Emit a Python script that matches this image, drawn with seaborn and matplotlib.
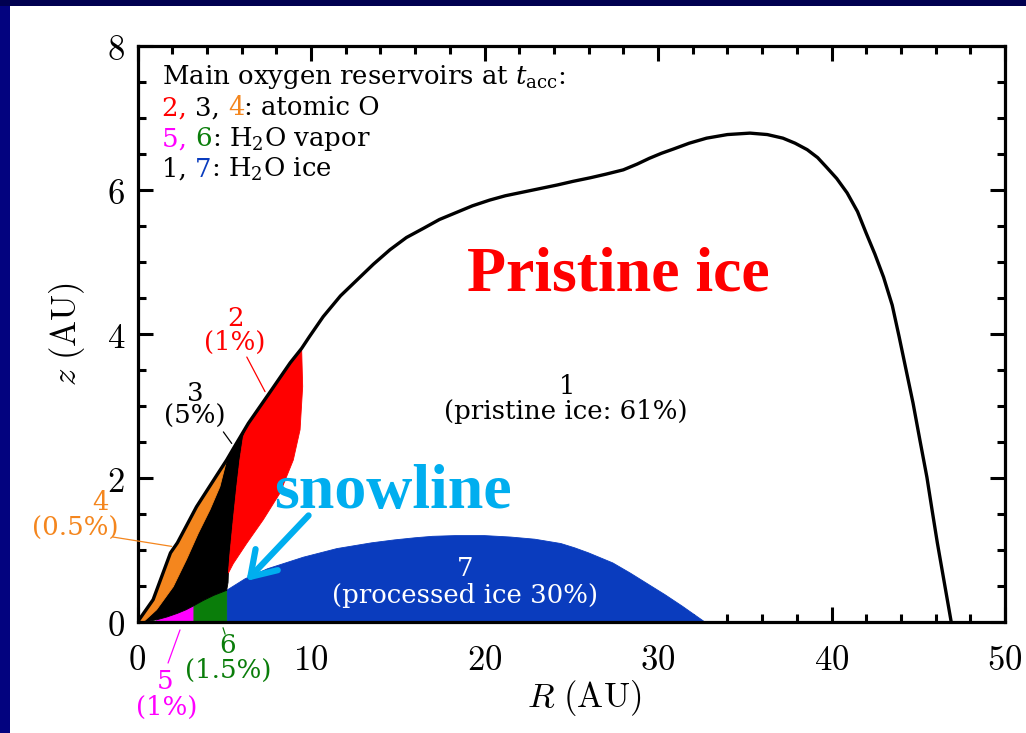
import numpy as np
import matplotlib
matplotlib.use("Agg")
import matplotlib.pyplot as plt
from matplotlib.transforms import offset_copy
from matplotlib.patches import Rectangle, FancyArrowPatch
import seaborn as sns

# ---- disc surface (outer boundary of the accreted material), R and z in AU
surf_R = [0, 0.9, 1.9, 2.3, 3.4, 4.6, 5.14, 5.7, 6.39, 7.6, 8.8, 9.46, 9.9, 10.7,
          11.7, 12.65, 13.6, 14.55, 15.5, 16.5, 17.4, 18.4, 19.3, 20.3, 21.2, 22.2,
          23.2, 24.2, 25.1, 26.1, 27.0, 28.0, 28.8, 29.5, 30.2, 30.9, 31.8, 32.8,
          34.0, 35.3, 36.3, 37.2, 37.9, 38.6, 39.2, 39.7, 40.3, 40.9, 41.5, 42.0,
          42.5, 43.0, 43.5, 43.9, 44.3, 44.7, 45.1, 45.5, 45.8, 46.1, 46.5, 46.9]
surf_z = [0, 0.31, 0.96, 1.1, 1.6, 2.05, 2.25, 2.48, 2.76, 3.18, 3.6, 3.8, 3.96, 4.24,
          4.53, 4.75, 4.97, 5.17, 5.34, 5.47, 5.59, 5.69, 5.78, 5.86, 5.92, 5.97,
          6.02, 6.07, 6.12, 6.17, 6.22, 6.28, 6.36, 6.44, 6.51, 6.57, 6.65, 6.72,
          6.77, 6.79, 6.77, 6.72, 6.65, 6.56, 6.45, 6.32, 6.16, 5.96, 5.70, 5.40,
          5.11, 4.79, 4.40, 3.96, 3.50, 3.04, 2.52, 2.01, 1.55, 1.10, 0.55, 0]
I_ORANGE_TIP, I_BLACK_TOP, I_RED_TOP = 6, 8, 11

# inner edge of region 4 (atomic O), from its tip down to the star
orange_R = [5.14, 4.75, 4.18, 3.5, 2.83, 2.06, 1.1, 0.33, 0]
orange_z = [2.25, 1.88, 1.56, 1.23, 0.87, 0.49, 0.17, 0.0, 0]

# boundary between regions 3 and 2, from the surface down to the lower tip
mid_R = [6.39, 6.1, 5.9, 5.72, 5.52, 5.33, 5.24]
mid_z = [2.76, 2.57, 2.25, 1.88, 1.42, 0.95, 0.68]
corner_R = [5.22]
corner_z = [0.55]

# outer edge of region 2, from the surface down to the lower tip
red_R = [9.46, 9.52, 9.37, 8.98, 8.21, 7.25, 6.29, 5.52, 5.24]
red_z = [3.8, 3.27, 2.67, 2.25, 1.79, 1.42, 1.09, 0.81, 0.68]

# lower edge of region 3 (top of the vapour regions 5 and 6)
base_R = [0, 0.6, 1.1, 1.7, 2.3, 2.8, 3.2, 3.8, 4.4, 5.14]
base_z = [0, 0.01, 0.03, 0.07, 0.12, 0.17, 0.22, 0.30, 0.37, 0.44]
I_MAG_START, I_GREEN_START = 2, 6

# top of region 7 (processed ice)
blue_R = [5.14, 6.2, 7.5, 9.56, 11.5, 13.5, 14.8, 16.0, 17.0, 18.3, 20.0, 21.5,
          22.9, 24.4, 25.2, 26.0, 27.4, 28.4, 29.4, 30.4, 31.4, 32.7]
blue_z = [0.44, 0.6, 0.74, 0.9, 1.02, 1.1, 1.14, 1.17, 1.19, 1.2, 1.2, 1.18,
          1.15, 1.09, 1.03, 0.96, 0.82, 0.68, 0.53, 0.38, 0.22, 0]

x_ticks = [0, 10, 20, 30, 40, 50]
y_ticks = [0, 2, 4, 6, 8]

C_RED, C_ORANGE, C_MAG = "#FF0000", "#F4861E", "#FF00FF"
C_GREEN, C_BLUE, C_BLACK = "#0A7D0A", "#0A3CBE", "#000000"
C_SKY = "#00AEEF"

sns.set_theme(style="ticks")
plt.rcParams.update({
    "font.family": ["DejaVu Serif"],
    "mathtext.fontset": "cm",
    "axes.linewidth": 2.3,
    "axes.edgecolor": "black",
    "axes.labelcolor": "black",
    "text.color": "black",
    "xtick.direction": "in", "ytick.direction": "in",
    "xtick.top": True, "ytick.right": True,
    "xtick.major.size": 11, "ytick.major.size": 11,
    "xtick.minor.size": 5.5, "ytick.minor.size": 5.5,
    "xtick.major.width": 2.2, "ytick.major.width": 2.2,
    "xtick.minor.width": 2.2, "ytick.minor.width": 2.2,
    "xtick.color": "black", "ytick.color": "black",
    "xtick.labelcolor": "black", "ytick.labelcolor": "black",
})

fig = plt.figure(figsize=(10.26, 7.33), dpi=100)
fig.patch.set_facecolor("white")
fig.patches.append(Rectangle((0, 0), 10 / 1026, 1, transform=fig.transFigure,
                             facecolor="#03037F", edgecolor="none"))
fig.patches.append(Rectangle((0, 1 - 6 / 733), 1, 6 / 733, transform=fig.transFigure,
                             facecolor="#000050", edgecolor="none"))

ax = fig.add_axes([137.5 / 1026, 111 / 733, 867.5 / 1026, 576 / 733])
ax.set_facecolor("white")


def region(xs, ys, color):
    ax.fill(xs, ys, facecolor=color, edgecolor=color, lw=0.6, zorder=2)


# region 7: processed ice
region([blue_R[0]] + blue_R, [0] + blue_z, C_BLUE)
# regions 6 and 5: water vapour
region([base_R[I_GREEN_START]] + base_R[I_GREEN_START:] + [base_R[-1]],
       [0] + base_z[I_GREEN_START:] + [0], C_GREEN)
region([base_R[I_MAG_START]] + base_R[I_MAG_START:I_GREEN_START + 1] + [base_R[I_GREEN_START]],
       [0] + base_z[I_MAG_START:I_GREEN_START + 1] + [0], C_MAG)
# region 3: atomic O (black)
region(surf_R[:I_BLACK_TOP + 1] + mid_R + corner_R + base_R[::-1],
       surf_z[:I_BLACK_TOP + 1] + mid_z + corner_z + base_z[::-1], C_BLACK)
# region 2
region(surf_R[I_BLACK_TOP:I_RED_TOP + 1] + red_R + mid_R[::-1],
       surf_z[I_BLACK_TOP:I_RED_TOP + 1] + red_z + mid_z[::-1], C_RED)
# region 4
region(surf_R[:I_ORANGE_TIP + 1] + orange_R, surf_z[:I_ORANGE_TIP + 1] + orange_z, C_ORANGE)

# disc surface
sns.lineplot(x=surf_R, y=surf_z, sort=False, estimator=None, color="black",
             lw=2.4, ax=ax, zorder=4)

ax.set_xlim(0, 50)
ax.set_ylim(0, 8)
ax.set_xticks(x_ticks, labels=[f"${v}$" for v in x_ticks])
ax.set_yticks(y_ticks, labels=[f"${v}$" for v in y_ticks])
ax.set_xticks(np.arange(0, 51, 2), minor=True)
ax.set_yticks(np.arange(0, 8.01, 0.5), minor=True)
ax.tick_params(axis="x", which="major", labelsize=25, pad=15)
ax.tick_params(axis="y", which="major", labelsize=25, pad=9)
ax.set_xlabel(r"$R\ (\mathrm{AU})$", fontsize=25)
ax.xaxis.set_label_coords(0.515, -0.098)
ax.set_ylabel(r"$z\ (\mathrm{AU})$", fontsize=25, labelpad=14)
for s in ax.spines.values():
    s.set_zorder(6)

# ---- region labels
TXT = 18.7


def label(x, y, s, color, **kw):
    ax.text(x, y, s, color=color, fontsize=TXT, ha="center", va="center",
            clip_on=False, zorder=7, **kw)


def leader(x0, y0, x1, y1, color):
    ax.plot([x0, x1], [y0, y1], color=color, lw=0.9, clip_on=False, zorder=7)


label(5.62, 4.22, "2", C_RED)
label(5.62, 3.89, "(1%)", C_RED)
leader(6.3, 3.68, 7.35, 3.2, C_RED)

label(3.31, 3.17, "3", C_BLACK)
label(3.31, 2.85, "(5%)", C_BLACK)
leader(4.95, 2.64, 5.43, 2.48, C_BLACK)

label(-2.15, 1.66, "4", C_ORANGE)
label(-3.6, 1.30, "(0.5%)", C_ORANGE)
leader(-1.41, 1.18, 1.97, 1.05, C_ORANGE)

label(1.6, -0.83, "5", C_MAG)
label(1.7, -1.18, "(1%)", C_MAG)
leader(2.45, -0.11, 1.76, -0.57, C_MAG)

label(5.2, -0.32, "6", C_GREEN)
label(5.2, -0.67, "(1.5%)", C_GREEN)
leader(4.93, -0.08, 5.05, -0.17, C_GREEN)

label(24.75, 3.27, "1", C_BLACK)
label(24.7, 2.92, "(pristine ice: 61%)", C_BLACK)

label(18.9, 0.74, "7", "white")
label(18.9, 0.375, "(processed ice 30%)", "white")

# ---- key in the upper left corner
renderer = fig.canvas.get_renderer()


def key_line(y, parts):
    done = ""
    for s, c in parts:
        if done:
            probe = ax.text(0, 0, done + "|", fontsize=TXT, transform=ax.transAxes)
            bar = ax.text(0, 0, "|", fontsize=TXT, transform=ax.transAxes)
            dx = (probe.get_window_extent(renderer).width
                  - bar.get_window_extent(renderer).width)
            probe.remove()
            bar.remove()
        else:
            dx = 0
        tr = offset_copy(ax.transAxes, fig=fig, x=dx, y=0, units="dots")
        ax.text(0.028, y, s, color=c, fontsize=TXT, transform=tr, ha="left",
                va="baseline", math_fontfamily="dejavuserif", zorder=7)
        done += s


key_line(0.934, [(r"Main oxygen reservoirs at $t_{\rm acc}$:", C_BLACK)])
key_line(0.880, [("2, ", C_RED), ("3, ", C_BLACK), ("4", C_ORANGE), (": atomic O", C_BLACK)])
key_line(0.826, [("5, ", C_MAG), ("6", C_GREEN), (r": H$_2$O vapor", C_BLACK)])
key_line(0.7726, [("1, ", C_BLACK), ("7", C_BLUE), (r": H$_2$O ice", C_BLACK)])

# ---- headline annotations
ax.text(27.7, 4.61, "Pristine ice", color=C_RED, fontsize=46, fontweight="bold",
        family="Liberation Serif", ha="center", va="baseline", zorder=7)
ax.text(14.75, 1.58, "snowline", color=C_SKY, fontsize=46, fontweight="bold",
        family="Liberation Serif", ha="center", va="baseline", zorder=7)
ax.add_patch(FancyArrowPatch(posA=(9.86, 1.48), posB=(6.28, 0.57),
                             arrowstyle="->,head_length=0.85,head_width=0.55",
                             mutation_scale=20, lw=4.5, color=C_SKY,
                             shrinkA=0, shrinkB=0, zorder=7))

fig.savefig("out.png", dpi=100, facecolor=fig.get_facecolor())
